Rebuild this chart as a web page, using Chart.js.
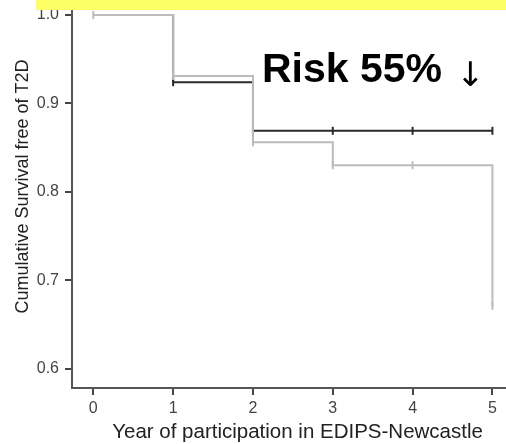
<!DOCTYPE html>
<html>
<head>
<meta charset="utf-8">
<script src="https://cdn.jsdelivr.net/npm/chart.js@4"></script>
<style>
  body { margin: 0; background: #fff; }
  #wrap { position: relative; width: 506px; height: 444px; }
  #band { position: absolute; left: 36px; top: 0; width: 470px; height: 10px; background: #ffff66; }
</style>
</head>
<body>
<div id="wrap">
  <canvas id="km"></canvas>
  <div id="band"></div>
</div>
<script>
// Kaplan-Meier style survival curves, one value per year
const years = [0, 1, 2, 3, 4, 5];
const survivalGrey = [1.0, 0.931, 0.856, 0.83, 0.83, 0.671];
const survivalBlack = [1.0, 0.924, 0.869, 0.869, 0.869, 0.869];
// censor marks drawn at these indexes
const censorGrey = [0, 1, 2, 3, 4, 5];
const censorBlack = [1, 2, 3, 4, 5];
const yTicks = [0.6, 0.7, 0.8, 0.9, 1.0];
const xTicks = [0, 1, 2, 3, 4, 5];

function toPoints(vals) {
    return years.map((x, i) => ({ x: x, y: vals[i] }));
}

function markRadius(list) {
    return years.map((_, i) => list.indexOf(i) >= 0 ? 4 : 0);
}

// big annotation at the top right
const riskLabel = {
    id: 'riskLabel',
    afterDraw(chart) {
        const ctx = chart.ctx;
        ctx.save();
        ctx.fillStyle = '#000';
        ctx.textBaseline = 'alphabetic';
        ctx.font = "bold 41px 'Liberation Sans', Arial, sans-serif";
        ctx.fillText('Risk 55%', 262, 82);
        ctx.font = "34px 'DejaVu Sans', sans-serif";
        ctx.fillText('↓', 456, 86);
        ctx.restore();
    }
};

const axisFont = { family: "'Liberation Sans', Arial, sans-serif" };

new Chart(document.getElementById('km'), {
    type: 'line',
    data: {
        datasets: [{
            data: toPoints(survivalGrey),
            stepped: 'before',
            borderColor: '#bcbcbc',
            borderWidth: 2,
            pointStyle: 'line',
            rotation: 90,
            pointRadius: markRadius(censorGrey),
            pointBorderColor: '#bcbcbc',
            pointBorderWidth: 2,
            fill: false,
            order: 0
        }, {
            data: toPoints(survivalBlack),
            stepped: 'before',
            borderColor: '#2b2b2b',
            borderWidth: 2,
            pointStyle: 'line',
            rotation: 90,
            pointRadius: markRadius(censorBlack),
            pointBorderColor: '#2b2b2b',
            pointBorderWidth: 2,
            fill: false,
            order: 1
        }]
    },
    options: {
        responsive: true,
        maintainAspectRatio: false,
        animation: false,
        layout: { padding: 0, autoPadding: false },
        plugins: {
            legend: { display: false },
            tooltip: { enabled: false }
        },
        scales: {
            x: {
                type: 'linear',
                min: -0.267,
                max: 5.17,
                afterBuildTicks: function(scale) {
                    scale.ticks = xTicks.map(v => ({ value: v }));
                },
                afterFit: function(scale) {
                    scale.height = 56;
                    scale.paddingLeft = 0;
                    scale.paddingRight = 0;
                },
                grid: { drawOnChartArea: false, drawTicks: true, tickLength: 7, color: '#444', lineWidth: 2 },
                border: { display: true, color: '#555', width: 2 },
                ticks: {
                    padding: 4,
                    color: '#444',
                    font: Object.assign({ size: 16 }, axisFont),
                    maxRotation: 0,
                    autoSkip: false
                },
                title: {
                    display: true,
                    text: '   Year of participation in EDIPS-Newcastle',
                    color: '#222',
                    font: Object.assign({ size: 20.5 }, axisFont),
                    padding: { top: 0, bottom: -1 }
                }
            },
            y: {
                min: 0.578,
                max: 1.017,
                afterBuildTicks: function(scale) {
                    scale.ticks = yTicks.map(v => ({ value: v }));
                },
                afterFit: function(scale) {
                    scale.width = 72;
                    scale.paddingTop = 0;
                    scale.paddingBottom = 0;
                },
                grid: { drawOnChartArea: false, drawTicks: true, tickLength: 7, color: '#444', lineWidth: 2 },
                border: { display: true, color: '#555', width: 2 },
                ticks: {
                    padding: 6,
                    color: '#444',
                    font: Object.assign({ size: 16 }, axisFont),
                    callback: function(v) { return v.toFixed(1); }
                },
                title: {
                    display: true,
                    text: '   Cumulative Survival free of T2D',
                    color: '#222',
                    font: Object.assign({ size: 18 }, axisFont),
                    padding: { top: 12, bottom: 0 }
                }
            }
        }
    },
    plugins: [riskLabel]
});
</script>
</body>
</html>
